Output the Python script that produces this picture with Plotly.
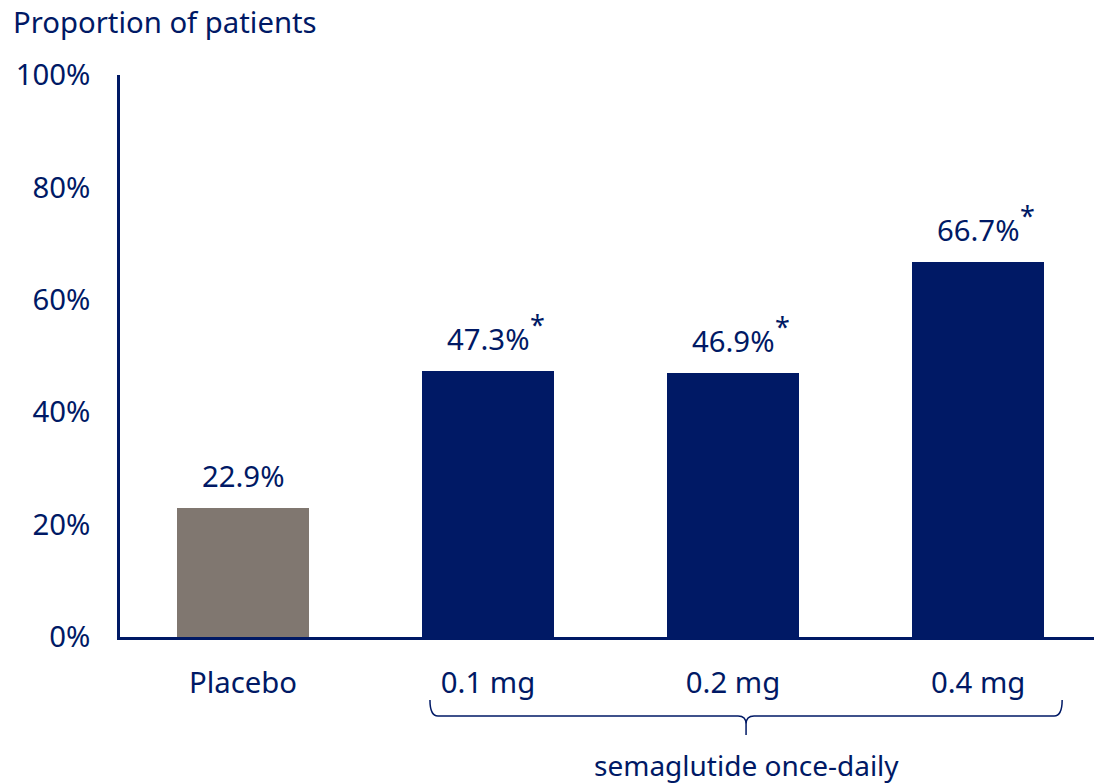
import plotly.graph_objects as go

categories = ["Placebo", "0.1 mg", "0.2 mg", "0.4 mg"]
values = [22.9, 47.3, 46.9, 66.7]
significant = [False, True, True, True]
bar_colors = ["#807770", "#001965", "#001965", "#001965"]
y_ticks = [0, 20, 40, 60, 80, 100]
y_tick_labels = ["0%", "20%", "40%", "60%", "80%", "100%"]
group_label = "semaglutide once-daily"
y_title = "Proportion of patients"

NAVY = "#001965"
FONT = "Noto Sans"
FS = 29.3

W, H = 1094, 784
ML, MR, MT, MB = 120, 0, 75, 147
plot_w = W - ML - MR
plot_h = H - MT - MB
xrange = [-0.502, 3.473]
px_per_cat = plot_w / (xrange[1] - xrange[0])

x = list(range(len(categories)))

fig = go.Figure()
fig.add_trace(go.Bar(
    x=x, y=values, marker=dict(color=bar_colors, line=dict(width=0)),
    width=0.54, hoverinfo="skip", showlegend=False,
))

annotations = []
for xi, v, s in zip(x, values, significant):
    txt = f"{v:.1f}%"
    annotations.append(dict(
        x=xi, y=v, xref="x", yref="y", text=txt, showarrow=False,
        xanchor="center", yanchor="middle", yshift=32, borderpad=0,
        font=dict(family=FONT, size=FS, color=NAVY),
    ))
    if s:
        annotations.append(dict(
            x=xi, y=v, xref="x", yref="y", text="*", showarrow=False,
            xanchor="left", yanchor="middle", xshift=41, yshift=47, borderpad=0,
            font=dict(family=FONT, size=27, color=NAVY),
        ))

# y axis title (top-left)
annotations.append(dict(
    x=(11 - ML) / plot_w, y=(plot_h + MT - 22) / plot_h, xref="paper", yref="paper",
    text=y_title, showarrow=False, xanchor="left", yanchor="middle",
    font=dict(family=FONT, size=FS, color=NAVY),
))

# brace under semaglutide groups
def py(pix):
    return (MT + plot_h - pix) / plot_h

bx0 = x[1] - 0.237
bx1 = x[3] + 0.343
bxm = (bx0 + bx1) / 2
r = 8 / px_per_cat
y_top, y_mid, y_tip = py(700), py(716), py(735)
y_c = py(724)
path = (
    f"M {bx0},{y_top} Q {bx0},{y_mid} {bx0 + r},{y_mid} "
    f"L {bxm - r},{y_mid} Q {bxm},{y_mid} {bxm},{y_c} L {bxm},{y_tip} "
    f"M {bxm},{y_c} Q {bxm},{y_mid} {bxm + r},{y_mid} "
    f"L {bx1 - r},{y_mid} Q {bx1},{y_mid} {bx1},{y_top}"
)
shapes = [dict(type="path", path=path, xref="x", yref="paper",
               line=dict(color=NAVY, width=1.5))]

annotations.append(dict(
    x=bxm, y=py(765), xref="x", yref="paper", text=group_label, showarrow=False,
    xanchor="center", yanchor="middle",
    font=dict(family=FONT, size=28, color=NAVY),
))

fig.update_layout(
    width=W, height=H,
    margin=dict(l=ML, r=MR, t=MT, b=MB, pad=0),
    paper_bgcolor="white", plot_bgcolor="white",
    font=dict(family=FONT, size=FS, color=NAVY),
    annotations=annotations, shapes=shapes,
    bargap=0,
    xaxis=dict(
        range=xrange, tickmode="array", tickvals=x, ticktext=categories,
        showgrid=False, zeroline=False, showline=True, linecolor=NAVY, linewidth=2.5,
        ticks="", tickfont=dict(family=FONT, size=FS, color=NAVY),
        ticklabelstandoff=18, fixedrange=True,
    ),
    yaxis=dict(
        range=[0, 100], tickmode="array", tickvals=y_ticks, ticktext=y_tick_labels,
        showgrid=False, zeroline=False, showline=True, linecolor=NAVY, linewidth=2.5,
        ticks="", tickfont=dict(family=FONT, size=FS, color=NAVY),
        ticklabelstandoff=21, fixedrange=True,
    ),
)

fig.write_html(
    "out.html",
    config=dict(displayModeBar=False),
    post_script="document.body.style.margin='0';document.body.style.overflow='hidden';",
)
